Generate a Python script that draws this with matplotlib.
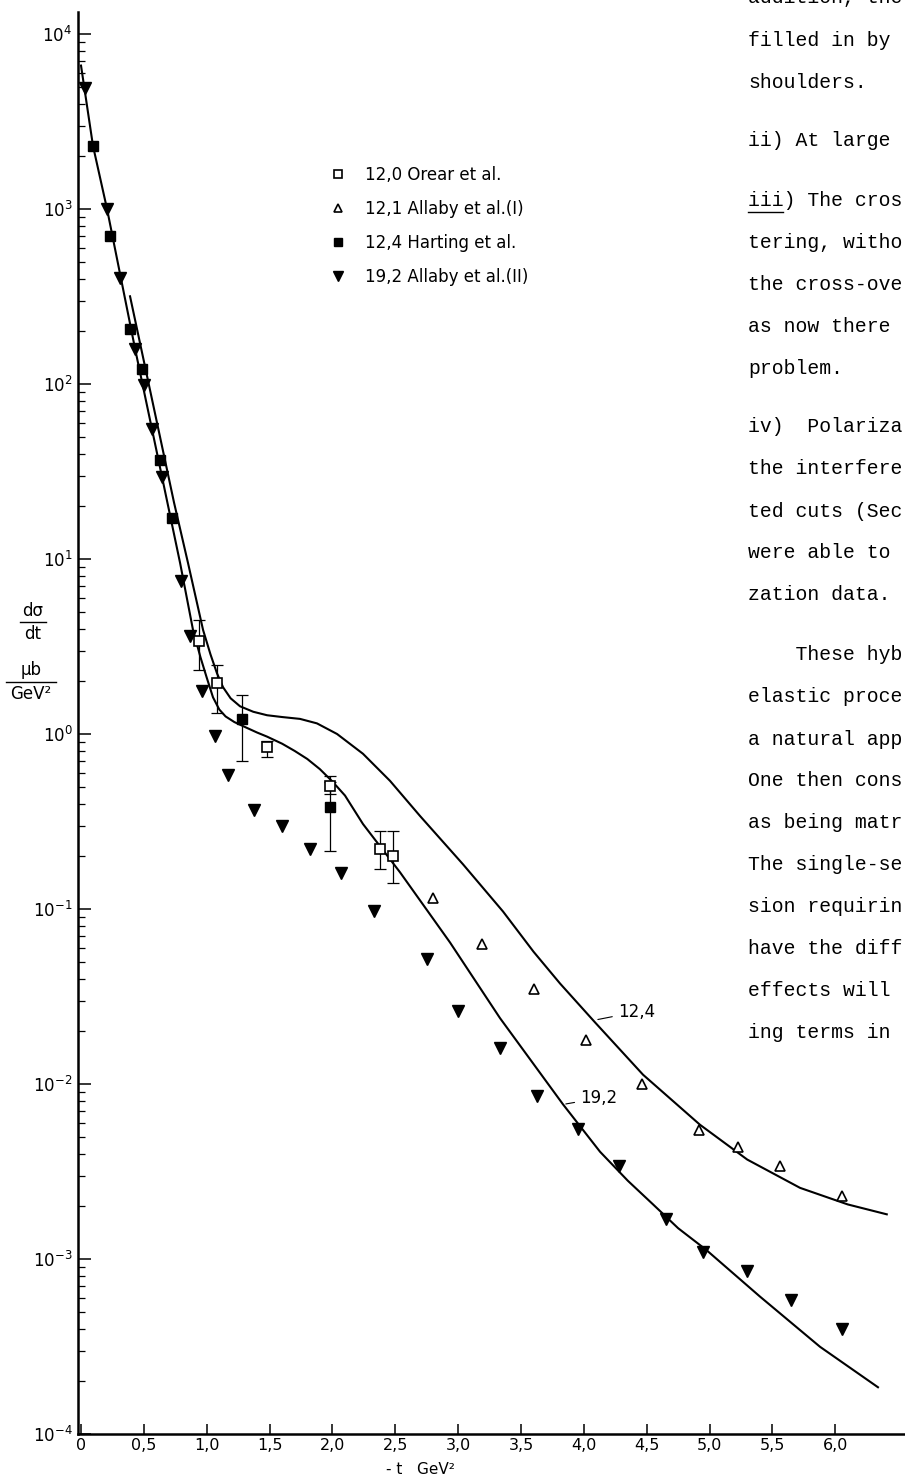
import numpy as np
import matplotlib
matplotlib.use("Agg")
import matplotlib.pyplot as plt
from matplotlib.lines import Line2D
from matplotlib.ticker import FixedLocator, NullFormatter, FuncFormatter

plt.rcParams['font.family'] = ['Liberation Sans Narrow', 'DejaVu Sans']
plt.rcParams['mathtext.default'] = 'regular'

# -t (GeV^2) and dsigma/dt (mub/GeV^2)
# 12.0 Orear et al. (open squares, with error bars)
t_orear = [0.94, 1.08, 1.48, 1.98, 2.38, 2.48]
s_orear = [3.4, 1.95, 0.847, 0.506, 0.22, 0.20]
lo_orear = [2.31, 1.31, 0.741, 0.455, 0.17, 0.14]
hi_orear = [4.48, 2.47, 0.916, 0.577, 0.28, 0.28]

# 12.1 Allaby et al. (I) (open triangles)
t_allaby1 = [2.80, 3.19, 3.60, 4.02, 4.46, 4.92, 5.23, 5.56, 6.05]
s_allaby1 = [0.115, 0.0634, 0.035, 0.0178, 0.00995, 0.00548, 0.00439, 0.0034, 0.0023]

# 12.4 Harting et al. (filled squares)
t_harting = [0.095, 0.23, 0.39, 0.485, 0.628, 0.72, 1.28, 1.98]
s_harting = [2300, 700, 207, 122, 37, 17.2, 1.22, 0.383]
lo_harting = [None, None, None, None, None, None, 0.70, 0.214]
hi_harting = [None, None, None, None, None, None, 1.66, 0.53]

# 19.2 Allaby et al. (II) (filled down triangles)
t_allaby2 = [0.03, 0.21, 0.31, 0.43, 0.50, 0.565, 0.645, 0.795, 0.867, 0.963,
             1.066, 1.169, 1.376, 1.60, 1.82, 2.07, 2.33, 2.75, 3.00, 3.33,
             3.63, 3.95, 4.28, 4.65, 4.95, 5.30, 5.65, 6.05]
s_allaby2 = [4900, 1000, 402, 159, 99, 55, 29.3, 7.5, 3.62, 1.77,
             0.98, 0.585, 0.368, 0.30, 0.22, 0.16, 0.098, 0.052, 0.026, 0.016,
             0.0085, 0.0055, 0.0034, 0.0017, 0.0011, 0.00085, 0.00058, 0.0004]

# model curves
t_124 = [0.39, 0.74, 0.851, 0.971, 1.03, 1.082, 1.13, 1.19, 1.265, 1.37,
         1.48, 1.60, 1.742, 1.877, 2.037, 2.243, 2.458, 2.697, 3.039, 3.357,
         3.60, 3.811, 4.089, 4.471, 4.924, 5.30, 5.72, 6.10, 6.41]
s_124 = [317, 21.0, 9.5, 3.93, 2.85, 2.22, 1.85, 1.60, 1.44, 1.34,
         1.28, 1.25, 1.22, 1.15, 1.0, 0.771, 0.540, 0.340, 0.180, 0.0968,
         0.057, 0.0375, 0.0225, 0.0113, 0.00585, 0.0037, 0.00255, 0.00205, 0.0018]
t_192 = [0.0, 0.095, 0.207, 0.43, 0.645, 0.788, 0.891, 0.95, 1.0, 1.05,
         1.10, 1.15, 1.22, 1.30, 1.40, 1.48, 1.60, 1.70, 1.80, 1.90,
         2.00, 2.10, 2.243, 2.538, 2.936, 3.333, 3.835, 4.129, 4.35, 4.551,
         4.75, 4.972, 5.40, 5.879, 6.34]
s_192 = [6600, 2300, 1000, 159, 29.3, 9.5, 3.93, 2.75, 2.1, 1.62,
         1.38, 1.26, 1.17, 1.10, 1.02, 0.966, 0.88, 0.80, 0.72, 0.63,
         0.535, 0.445, 0.306, 0.162, 0.0643, 0.0238, 0.00764, 0.0041, 0.0028, 0.00205,
         0.0015, 0.00113, 0.000611, 0.000315, 0.000185]

x_ticks = [0, 0.5, 1.0, 1.5, 2.0, 2.5, 3.0, 3.5, 4.0, 4.5, 5.0, 5.5, 6.0]
x_labels = ['0', '0,5', '1,0', '1,5', '2,0', '2,5', '3,0', '3,5', '4,0', '4,5', '5,0', '5,5', '6,0']
y_decades = [-4, -3, -2, -1, 0, 1, 2, 3, 4]

# typewritten page text, cut by the right edge of the scan
text_lines = ["addition, the", "filled in by", "shoulders.", "ii) At large",
              "iii) The cros", "tering, witho", "the cross-ove", "as now there",
              "problem.", "iv)  Polariza", "the interfere", "ted cuts (Sec",
              "were able to", "zation data.", "    These hyb", "elastic proce",
              "a natural app", "One then cons", "as being matr", "The single-se",
              "sion requirin", "have the diff", "effects will", "ing terms in"]
text_y = [-2, 40, 83, 141, 200, 242, 284, 326, 368, 426, 468, 511, 553, 595,
          654, 696, 739, 781, 823, 865, 907, 949, 991, 1033]

W, H = 905, 1480
fig = plt.figure(figsize=(W / 100, H / 100), dpi=100)
ax = fig.add_axes([78 / W, 1 - 1434 / H, 827 / W, (1434 - 12) / H])
ax.set_yscale('log')
ax.set_xlim(-0.024, 6.555)
ax.set_ylim(1e-4, 10 ** 4.1257)

ax.plot(t_124, s_124, color='black', lw=1.5)
ax.plot(t_192, s_192, color='black', lw=1.5)

def errs(s, lo, hi):
    down = [0 if l is None else v - l for v, l in zip(s, lo)]
    up = [0 if h is None else h - v for v, h in zip(s, hi)]
    return [down, up]

ax.errorbar(t_orear, s_orear, yerr=errs(s_orear, lo_orear, hi_orear), fmt='none',
            ecolor='black', elinewidth=0.9, capsize=4, capthick=0.9)
ax.errorbar(t_harting[6:], s_harting[6:],
            yerr=errs(s_harting[6:], lo_harting[6:], hi_harting[6:]), fmt='none',
            ecolor='black', elinewidth=0.9, capsize=4, capthick=0.9)

h1, = ax.plot(t_orear, s_orear, ls='none', marker='s', ms=7, mfc='white', mec='black', mew=1.2)
h2, = ax.plot(t_allaby1, s_allaby1, ls='none', marker='^', ms=6.5, mfc='white', mec='black', mew=1.2)
h3, = ax.plot(t_harting, s_harting, ls='none', marker='s', ms=7, color='black')
h4, = ax.plot(t_allaby2, s_allaby2, ls='none', marker='v', ms=8, color='black')

ax.annotate('12,4', xy=(4.09, 0.0232), xytext=(4.27, 0.0258), fontsize=12,
            va='center', ha='left', arrowprops=dict(arrowstyle='-', lw=0.8))
ax.annotate('19,2', xy=(3.835, 0.00764), xytext=(3.97, 0.0083), fontsize=12,
            va='center', ha='left', arrowprops=dict(arrowstyle='-', lw=0.8))

fig.legend([h1, h2, h3, h4],
           ['12,0 Orear et al.', '12,1 Allaby et al.(I)', '12,4 Harting et al.', '19,2 Allaby et al.(II)'],
           loc='upper left', bbox_to_anchor=(330 / W, 1 - 166 / H), frameon=False,
           fontsize=12, labelspacing=0.95, handletextpad=1.1, handlelength=1.0,
           borderpad=0, borderaxespad=0, markerscale=0.85)

for side in ('top', 'right'):
    ax.spines[side].set_visible(False)
for side in ('left', 'bottom'):
    ax.spines[side].set_linewidth(1.8)

# decade ticks only inside the plotted range, minor ticks 2..9 per decade
ax.yaxis.set_major_locator(FixedLocator([10.0 ** k for k in y_decades]))
ax.yaxis.set_minor_locator(FixedLocator([m * 10.0 ** k for k in y_decades for m in range(2, 10)]))
ax.yaxis.set_minor_formatter(NullFormatter())
ax.yaxis.set_major_formatter(FuncFormatter(lambda v, p: r'$10^{%d}$' % round(np.log10(v))))
ax.xaxis.set_major_locator(FixedLocator(x_ticks))
ax.set_xticklabels(x_labels)
ax.tick_params(axis='y', which='major', direction='in', length=9, width=1.1, pad=4, labelsize=12)
ax.tick_params(axis='y', which='minor', direction='in', length=5, width=0.9)
ax.tick_params(axis='x', which='major', direction='in', length=7, width=1.1, pad=3, labelsize=11.5)

# axis titles
fig.text(420 / W, 1 - 1469 / H, '- t   GeV²', ha='center', va='center', fontsize=11)
fig.text(33 / W, 1 - 611 / H, 'dσ', ha='center', va='center', fontsize=12)
fig.text(33 / W, 1 - 634 / H, 'dt', ha='center', va='center', fontsize=12)
fig.add_artist(Line2D([20 / W, 46 / W], [1 - 622 / H] * 2, color='black', lw=1))
fig.text(31 / W, 1 - 670 / H, 'μb', ha='center', va='center', fontsize=12)
fig.text(31 / W, 1 - 694 / H, 'GeV²', ha='center', va='center', fontsize=12)
fig.add_artist(Line2D([6 / W, 56 / W], [1 - 682 / H] * 2, color='black', lw=1))

for line, y in zip(text_lines, text_y):
    fig.text(748 / W, 1 - y / H, line, family='Liberation Mono', fontsize=14.2,
             ha='left', va='center')
fig.add_artist(Line2D([748 / W, 783 / W], [1 - 212 / H] * 2, color='black', lw=1))

fig.savefig('out.png', dpi=100)
